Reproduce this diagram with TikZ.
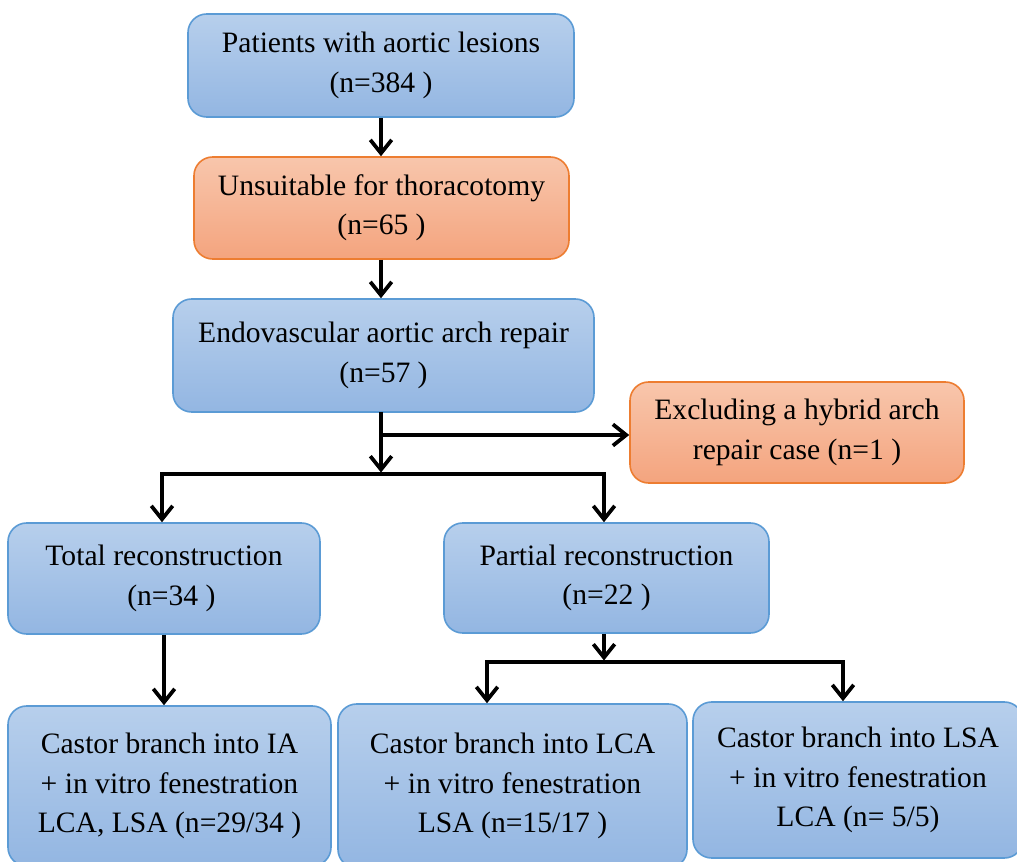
\documentclass[tikz,border=0pt]{standalone}
\usepackage{fontspec}
\setmainfont{Liberation Serif}
\usetikzlibrary{arrows.meta,calc}
\definecolor{bluetop}{HTML}{B7CFEC}
\definecolor{bluebot}{HTML}{93B6E2}
\definecolor{blueline}{HTML}{5B9BD5}
\definecolor{orangetop}{HTML}{F8C6AC}
\definecolor{orangebot}{HTML}{F4A47E}
\definecolor{orangeline}{HTML}{ED7D31}
\tikzset{
  txt/.style={font=\fontsize{22.2pt}{29.5pt}\selectfont, align=center, inner sep=0pt},
  dims/.style 2 args={minimum width=#1*0.75pt, minimum height=#2*0.75pt},
  bluebox/.style={txt, draw=blueline, line width=1.2pt, rounded corners=14pt, top color=bluetop, bottom color=bluebot},
  orangebox/.style={txt, draw=orangeline, line width=1.2pt, rounded corners=14pt, top color=orangetop, bottom color=orangebot},
  arr/.style={line width=2.8pt, -{Straight Barb[length=10pt, width=16pt]}},
  link/.style={line width=2.8pt}
}
\begin{document}
\begin{tikzpicture}[x=0.75pt, y=-0.75pt]
\useasboundingbox (0,0) rectangle (1017,862);
\clip (0,0) rectangle (1017,862);
\fill[white] (0,0) rectangle (1017,862);

\node[bluebox, dims={386}{103}] (p1) at (381,65.5) {Patients with aortic lesions\\(n=384 )};
\node[orangebox, dims={375}{102}] (p2) at (381.5,208) {Unsuitable for thoracotomy\\(n=65 )};
\node[bluebox, dims={421}{113}] (p3) at (383.5,355.5) {Endovascular aortic arch repair\\(n=57 )};
\node[orangebox, dims={334}{101}] (p4) at (797,432.5) {Excluding a hybrid arch\\repair case (n=1 )};
\node[bluebox, dims={312}{111}] (p5) at (164,578.5) {Total reconstruction\\\ \ (n=34 )};
\node[bluebox, dims={325}{110}] (p6) at (606.5,578) {Partial reconstruction\\(n=22 )};
\node[bluebox, dims={323}{160}] (p7) at (169.5,786) {Castor branch into IA\\+ in vitro fenestration\\LCA, LSA (n=29/34 )};
\node[bluebox, dims={349}{164}] (p8) at (512.5,786) {Castor branch into LCA\\+ in vitro fenestration\\LSA (n=15/17 )};
\node[bluebox, dims={330}{156}] (p9) at (858,780) {Castor branch into LSA\\+ in vitro fenestration\\LCA (n= 5/5)};

\coordinate (s3) at (381,412);
\coordinate (b3) at (381,435);
\coordinate (hl) at (162,474);
\coordinate (hm) at (381,474);
\coordinate (hr) at (604,474);
\coordinate (jl) at (487,662);
\coordinate (jm) at (604,662);
\coordinate (jr) at (843,662);

\draw[arr] (p1.south) -- (p1.south |- p2.north);
\draw[arr] (p1.south |- p2.south) -- (p1.south |- p3.north);
\draw[arr] (s3) -- ($(hm)+(0,-1.5)$);
\draw[arr] (b3) -- (b3 -| p4.west);
\draw[link] ($(hl)+(-1.8,0)$) -- ($(hr)+(1.8,0)$);
\draw[arr] (hl) -- (hl |- p5.north);
\draw[arr] (hr) -- (hr |- p6.north);
\draw[arr] (p5.south) -- (p5.south |- p7.north);
\draw[arr] (p6.south -| jm) -- ($(jm)+(0,-1.5)$);
\draw[link] ($(jl)+(-1.8,0)$) -- ($(jr)+(1.8,0)$);
\draw[arr] (jl) -- (jl |- p8.north);
\draw[arr] (jr) -- (jr |- p9.north);
\end{tikzpicture}
\end{document}
